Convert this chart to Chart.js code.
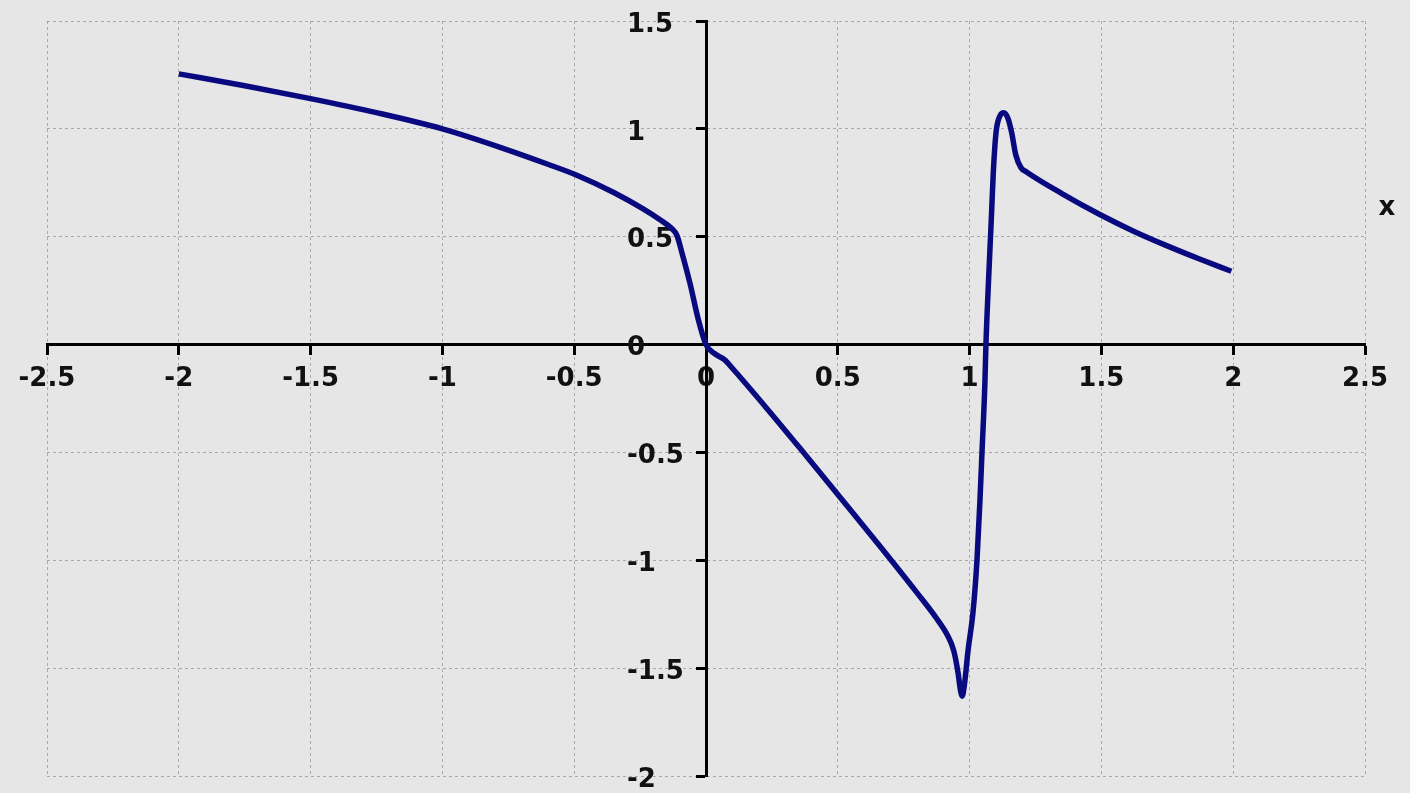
<!DOCTYPE html>
<html>
<head>
<meta charset="utf-8">
<script src="https://cdn.jsdelivr.net/npm/chart.js@4/dist/chart.umd.min.js"></script>
<style>
  html, body { margin: 0; padding: 0; background: #e8e8e8; }
  #wrap { width: 1410px; height: 793px; position: relative; }
</style>
</head>
<body>
<div id="wrap"><canvas id="c"></canvas></div>
<script>
const xValues = [-2, -1.75, -1.5, -1.25, -1, -0.77, -0.6, -0.49, -0.35, -0.24, -0.17, -0.13, -0.11, -0.09, -0.06, -0.03, 0,
  0.03, 0.07, 0.1, 0.23, 0.356, 0.5, 0.66, 0.8, 0.875, 0.917, 0.94, 0.956, 0.965, 0.972, 0.98, 0.994, 1.013, 1.028, 1.039,
  1.047, 1.058, 1.062, 1.074, 1.083, 1.09, 1.1, 1.115, 1.13, 1.145, 1.16, 1.175, 1.195, 1.216, 1.35, 1.494, 1.62, 1.745, 1.87, 1.993];
const yValues = [1.255, 1.20, 1.14, 1.075, 1.0, 0.91, 0.836, 0.785, 0.705, 0.63, 0.575, 0.538, 0.505, 0.42, 0.28, 0.12, 0,
  -0.04, -0.07, -0.11, -0.295, -0.48, -0.695, -0.935, -1.15, -1.27, -1.35, -1.42, -1.52, -1.60, -1.63, -1.58, -1.42, -1.24, -1.0, -0.73,
  -0.5, -0.18, 0, 0.355, 0.6, 0.8, 0.98, 1.06, 1.075, 1.05, 0.98, 0.88, 0.82, 0.80, 0.70, 0.603, 0.527, 0.46, 0.398, 0.34];
const xTicks = [-2.5, -2, -1.5, -1, -0.5, 0, 0.5, 1, 1.5, 2, 2.5];
const xTickLabels = ['-2.5', '-2', '-1.5', '-1', '-0.5', '0', '0.5', '1', '1.5', '2', '2.5'];
const yTicks = [-2, -1.5, -1, -0.5, 0, 0.5, 1, 1.5];
const yTickLabels = ['-2', '-1.5', '-1', '-0.5', '0', '0.5', '1', '1.5'];
const axisTitle = 'x';

const points = xValues.map((x, i) => ({ x: x, y: yValues[i] }));
const FONT = { family: 'DejaVu Sans', size: 26, weight: 'bold' };

const bgPlugin = {
  id: 'bg',
  beforeDraw(chart) {
    const ctx = chart.ctx;
    ctx.save();
    ctx.fillStyle = '#e6e6e6';
    ctx.fillRect(0, 0, chart.width, chart.height);
    ctx.restore();
  }
};

const yLabelPlugin = {
  id: 'yLabels',
  beforeDatasetsDraw(chart) {
    const ctx = chart.ctx;
    const xs = chart.scales.x, ys = chart.scales.y;
    const left = xs.getPixelForValue(0) - 79;
    ctx.save();
    ctx.font = 'bold 26px "DejaVu Sans"';
    ctx.fillStyle = '#111';
    ctx.textAlign = 'left';
    ctx.textBaseline = 'middle';
    ys.ticks.forEach((t) => {
      const idx = yTicks.indexOf(t.value);
      ctx.fillText(yTickLabels[idx], left, ys.getPixelForValue(t.value) + 4);
    });
    ctx.textAlign = 'center';
    ctx.fillText(axisTitle, chart.chartArea.right + 22, ys.getPixelForValue(0.63));
    ctx.restore();
  }
};

new Chart(document.getElementById('c'), {
  type: 'scatter',
  data: {
    datasets: [{
      data: points,
      showLine: true,
      borderColor: '#0a0a80',
      borderWidth: 5.5,
      pointRadius: 0,
      cubicInterpolationMode: 'monotone',
      fill: false
    }]
  },
  options: {
    responsive: true,
    maintainAspectRatio: false,
    animation: false,
    layout: { padding: { left: 47, right: 45, top: 21, bottom: 17 } },
    plugins: { legend: { display: false }, tooltip: { enabled: false } },
    scales: {
      x: {
        type: 'linear',
        min: -2.5, max: 2.5,
        position: { y: 0 },
        afterBuildTicks: (s) => { s.ticks = xTicks.map(v => ({ value: v })); },
        ticks: {
          font: FONT, color: '#111', padding: 10, maxRotation: 0, autoSkip: false,
          callback: (v) => xTickLabels[xTicks.indexOf(v)]
        },
        grid: { color: 'rgba(110,110,110,0.5)', lineWidth: 1, tickLength: 9, tickColor: '#000', tickWidth: 3, tickBorderDash: [] },
        border: { display: true, color: '#000', width: 3, dash: [3, 3] }
      },
      y: {
        type: 'linear',
        min: -2, max: 1.5,
        position: { x: 0 },
        afterBuildTicks: (s) => { s.ticks = yTicks.map(v => ({ value: v })); },
        ticks: { display: false, font: FONT },
        grid: { color: 'rgba(110,110,110,0.5)', lineWidth: 1, tickLength: 9, tickColor: '#000', tickWidth: 3, tickBorderDash: [] },
        border: { display: true, color: '#000', width: 3, dash: [3, 3] }
      }
    }
  },
  plugins: [bgPlugin, yLabelPlugin]
});
</script>
</body>
</html>
